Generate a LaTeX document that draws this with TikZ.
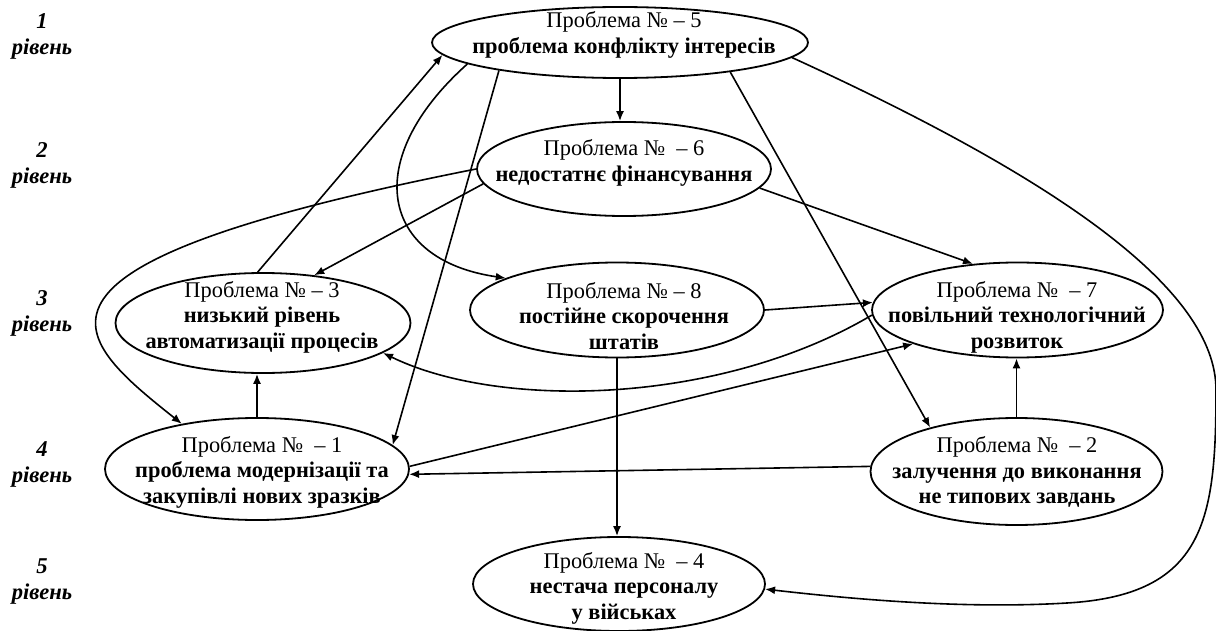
\documentclass[tikz,border=0pt]{standalone}
\usepackage{fontspec}
\setmainfont{Liberation Serif}
\usetikzlibrary{shapes.geometric,arrows.meta}
\begin{document}
\begin{tikzpicture}[x=0.5pt,y=-0.5pt,
  ell/.style 2 args={ellipse, draw, line width=0.9pt, minimum width=#1pt, minimum height=#2pt, inner sep=0pt},
  txt/.style={align=center, inner sep=0pt, font=\fontsize{11.2}{12.7}\selectfont},
  lvl/.style={align=center, inner sep=0pt, font=\fontsize{11.3}{13}\selectfont\bfseries\itshape},
  arr/.style={line width=0.8pt, -{Latex[length=5pt,width=4pt]}}
]
\useasboundingbox (0,0) rectangle (1216,631);

% level labels
\node[lvl] (l1) at (42,36.5) {1\\рівень};
\node[lvl] (l2) at (42,165) {2\\рівень};
\node[lvl] (l3) at (42,313) {3\\рівень};
\node[lvl] (l4) at (42,464) {4\\рівень};
\node[lvl] (l5) at (42,582) {5\\рівень};

% ellipses
\node[ell={188}{35.5}] (p5) at (620,42.5) {};
\node[ell={147}{47}] (p6) at (624,169) {};
\node[ell={147}{47.5}] (p8) at (617,310) {};
\node[ell={147.5}{50}] (p3) at (263,323) {};
\node[ell={145.5}{47.5}] (p7) at (1017.5,310) {};
\node[ell={152}{51}] (p1) at (257,469) {};
\node[ell={146}{53.5}] (p2) at (1016.5,471.5) {};
\node[ell={146}{47}] (p4) at (619,584) {};

% texts
\node[txt] (t5) at (624,35) {Проблема № – 5\\\textbf{проблема конфлікту інтересів}};
\node[txt] (t6) at (624,163) {Проблема №~~– 6\\\textbf{недостатнє фінансування}};
\node[txt] (t8) at (624,316) {Проблема № – 8\\\textbf{постійне скорочення}\\\textbf{штатів}};
\node[txt] (t3) at (262,317) {Проблема № – 3\\\textbf{низький рівень}\\\textbf{автоматизації процесів}};
\node[txt] (t7) at (1017,317) {Проблема №~~– 7\\\textbf{повільний технологічний}\\\textbf{розвиток}};
\node[txt] (t1) at (262,472) {Проблема №~~– 1\\\textbf{проблема модернізації та}\\\textbf{закупівлі нових зразків}};
\node[txt] (t2) at (1017,472) {Проблема №~~– 2\\\textbf{залучення до виконання}\\\textbf{не типових завдань}};
\node[txt] (t4) at (624,588) {Проблема №~~– 4\\\textbf{нестача персоналу}\\\textbf{у військах}};

% connectors
\draw[arr] (p5.south) -- (p5.south |- p6.north);
\draw[arr] (p6.186) -- (p3.43);
\draw[arr] (p6.180) .. controls (-10,265) and (70,335) .. (p1.149);
\draw[arr] (p3.96) -- (p5.184);
\draw[arr] (p5.188) .. controls (360,160) and (380,260) .. (p8.164);
\draw[arr] (p5.193) -- (p1.10);
\draw[arr] (p5.345) -- (p2.153);
\draw[arr] (p5.355) .. controls (1060,180) and (1216,290) .. (1216,390)
  .. controls (1216,520) and (1205,595) .. (1067,603)
  .. controls (967,609) and (860,600) .. (p4.358);
\draw[arr] (p6.352) -- (p7.134);
\draw[arr] (p8.east) -- (p7.177);
\draw[arr] (p7.182) .. controls (720,405) and (500,410) .. (p3.346);
\draw[arr] (p1.1) -- (p7.198);
\draw[arr] (p1.north) -- (p1.north |- p3.south);
\draw[arr] (p2.north) -- (p2.north |- p7.south);
\draw[arr] (p2.178) -- (p1.358);
\draw[arr] (p8.south) -- (p8.south |- p4.north);
\end{tikzpicture}
\end{document}
